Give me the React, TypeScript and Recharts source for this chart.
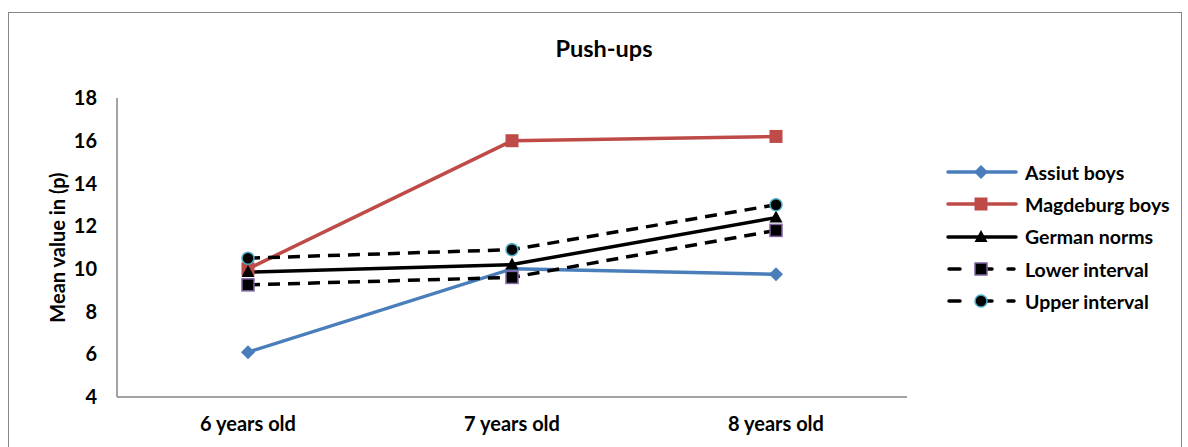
import React from "react";
import { LineChart, Line, XAxis, YAxis, Label } from "recharts";

const categories = ["6 years old", "7 years old", "8 years old"];
const assiutBoys = [6.1, 10.0, 9.75];
const magdeburgBoys = [10.0, 16.0, 16.2];
const germanNorms = [9.85, 10.2, 12.4];
const lowerInterval = [9.25, 9.6, 11.8];
const upperInterval = [10.5, 10.9, 13.0];
const yTicks = [4, 6, 8, 10, 12, 14, 16, 18];

const data = categories.map((name, i) => ({
  name,
  assiut: assiutBoys[i],
  magdeburg: magdeburgBoys[i],
  german: germanNorms[i],
  lower: lowerInterval[i],
  upper: upperInterval[i],
}));

const FONT = "Lato, 'Open Sans', sans-serif";
const BLUE = "#4A7EBB";
const RED = "#BE4B48";
const PURPLE = "#8064A2";
const CYAN = "#4BACC6";

const Diamond = (props: any) => {
  const { cx, cy } = props;
  const r = 7;
  return <path d={`M${cx},${cy - r}L${cx + r},${cy}L${cx},${cy + r}L${cx - r},${cy}Z`} fill={BLUE} />;
};
const RedSquare = (props: any) => {
  const { cx, cy } = props;
  return <rect x={cx - 6.5} y={cy - 6.5} width={13} height={13} fill={RED} />;
};
const Triangle = (props: any) => {
  const { cx, cy } = props;
  return <path d={`M${cx},${cy - 7}L${cx + 6.5},${cy + 5}L${cx - 6.5},${cy + 5}Z`} fill="#000" />;
};
const PurpleSquare = (props: any) => {
  const { cx, cy } = props;
  return <rect x={cx - 6} y={cy - 6} width={12} height={12} fill="#000" stroke={PURPLE} strokeWidth={1.5} />;
};
const CyanCircle = (props: any) => {
  const { cx, cy } = props;
  return <circle cx={cx} cy={cy} r={6} fill="#000" stroke={CYAN} strokeWidth={1.5} />;
};

const legendItems = [
  { label: "Assiut boys", color: BLUE, dash: false, marker: "diamond" },
  { label: "Magdeburg boys", color: RED, dash: false, marker: "square" },
  { label: "German norms", color: "#000", dash: false, marker: "triangle" },
  { label: "Lower interval", color: "#000", dash: true, marker: "psquare" },
  { label: "Upper interval", color: "#000", dash: true, marker: "circle" },
];

function LegendSymbol({ item }: { item: any }) {
  const cx = 35;
  const cy = 8;
  let m: any = null;
  if (item.marker === "diamond") m = <Diamond cx={cx} cy={cy} />;
  if (item.marker === "square") m = <RedSquare cx={cx} cy={cy} />;
  if (item.marker === "triangle") m = <Triangle cx={cx} cy={cy} />;
  if (item.marker === "psquare") m = <PurpleSquare cx={cx} cy={cy} />;
  if (item.marker === "circle") m = <CyanCircle cx={cx} cy={cy} />;
  return (
    <svg width={72} height={16} style={{ display: "block" }}>
      {item.dash ? (
        <g stroke="#000" strokeWidth={3.5} strokeLinecap="round">
          <line x1={3} y1={cy} x2={14} y2={cy} />
          <line x1={35} y1={cy} x2={46} y2={cy} />
          <line x1={62} y1={cy} x2={68} y2={cy} />
        </g>
      ) : (
        <line x1={2} y1={cy} x2={70} y2={cy} stroke={item.color} strokeWidth={3.5} strokeLinecap="round" />
      )}
      {m}
    </svg>
  );
}

export default function App() {
  return (
    <div style={{ position: "absolute", left: 0, top: 0, width: 1188, height: 447, background: "#fff", fontFamily: FONT }}>
      <div style={{ position: "absolute", left: 8, top: 12, width: 1172, height: 450, border: "1px solid #868686" }} />
      <div style={{ position: "absolute", left: 0, top: 34, width: 1208, textAlign: "center", fontWeight: 700, fontSize: 23.5, color: "#000" }}>
        Push-ups
      </div>
      <div style={{ position: "absolute", left: 0, top: 0 }}>
        <LineChart width={1188} height={447} data={data} margin={{ top: 98, right: 281, bottom: 20, left: 57 }}>
          <XAxis
            dataKey="name"
            padding={{ left: 131, right: 131 }}
            axisLine={{ stroke: "#868686", strokeWidth: 1.5 }}
            tickLine={false}
            tickSize={0}
            tickMargin={20}
            height={30}
            tick={{ fill: "#000", fontSize: 20, fontWeight: 700, fontFamily: FONT }}
          />
          <YAxis
            domain={[4, 18]}
            ticks={yTicks}
            interval={0}
            width={60}
            axisLine={{ stroke: "#868686", strokeWidth: 1.5 }}
            tickLine={false}
            tickSize={0}
            tickMargin={20}
            tick={{ fill: "#000", fontSize: 20, fontWeight: 700, fontFamily: FONT }}
          >
            <Label
              content={(props: any) => {
                const vb = props.viewBox;
                const x = 57;
                const y = vb.y + vb.height / 2;
                return (
                  <text x={x} y={y} transform={`rotate(-90, ${x}, ${y})`} textAnchor="middle" dominantBaseline="central" fontWeight={700} fontSize={20} fontFamily={FONT} fill="#000">
                    Mean value in (p)
                  </text>
                );
              }}
            />
          </YAxis>
          <Line dataKey="assiut" stroke={BLUE} strokeWidth={3.5} dot={<Diamond />} activeDot={false} isAnimationActive={false} />
          <Line dataKey="magdeburg" stroke={RED} strokeWidth={3.5} dot={<RedSquare />} activeDot={false} isAnimationActive={false} />
          <Line dataKey="german" stroke="#000" strokeWidth={3.5} dot={<Triangle />} activeDot={false} isAnimationActive={false} />
          <Line dataKey="lower" stroke="#000" strokeWidth={3.5} strokeDasharray="12 8" dot={<PurpleSquare />} activeDot={false} isAnimationActive={false} />
          <Line dataKey="upper" stroke="#000" strokeWidth={3.5} strokeDasharray="12 8" dot={<CyanCircle />} activeDot={false} isAnimationActive={false} />
        </LineChart>
      </div>
      <div style={{ position: "absolute", left: 946, top: 156 }}>
        {legendItems.map((item) => (
          <div key={item.label} style={{ display: "flex", alignItems: "center", height: 32.3 }}>
            <LegendSymbol item={item} />
            <span style={{ marginLeft: 7, fontWeight: 700, fontSize: 19.5, color: "#000", whiteSpace: "nowrap" }}>{item.label}</span>
          </div>
        ))}
      </div>
    </div>
  );
}
